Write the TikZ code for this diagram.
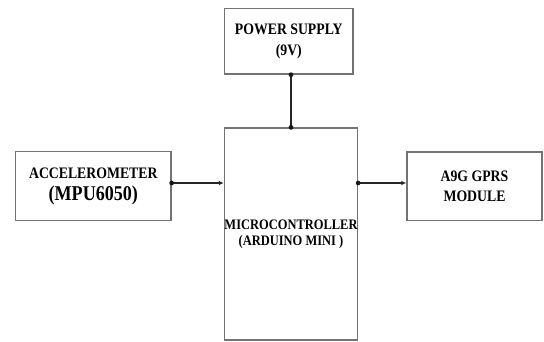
\documentclass[tikz,border=0pt]{standalone}
\usepackage{fontspec}
\setmainfont{Liberation Serif}[FakeStretch=0.86]
\usetikzlibrary{arrows.meta}
\begin{document}
\begin{tikzpicture}[x=1pt,y=-1pt,
  blockbox/.style={draw=black!55, line width=1.3pt, fill=white, inner sep=0pt, align=center, font=\bfseries\fontsize{16}{21}\selectfont},
  conn/.style={line width=1.4pt, black!85, -{Latex[length=5pt,width=4.5pt]}},
  plainconn/.style={line width=1.4pt, black!85},
  jdot/.style={fill=black!90}]
\useasboundingbox (0,0) rectangle (544,341);
\node[blockbox, minimum width=128.5pt, minimum height=65.3pt] (ps) at (288.8,41.4)
  {POWER SUPPLY\\(9V)};
\node[blockbox, minimum width=128pt, minimum height=212pt, font=\bfseries\fontsize{14.5}{16}\selectfont] (mc) at (291,234)
  {MICROCONTROLLER\\(ARDUINO MINI )};
\node[blockbox, minimum width=155.4pt, minimum height=69pt] (acc) at (93.3,186)
  {ACCELEROMETER\\[1pt]{\fontsize{21}{21}\selectfont (MPU6050)}};
\node[blockbox, minimum width=135pt, minimum height=68.7pt, font=\bfseries\fontsize{16}{19.5}\selectfont] (gprs) at (474.5,186.4)
  {A9G GPRS\\MODULE};
\coordinate (mid) at (0,183);
\coordinate (pscol) at (291,0);
\coordinate (a1) at (acc.east |- mid);
\coordinate (a2) at (mc.west |- mid);
\coordinate (b1) at (mc.east |- mid);
\coordinate (b2) at (gprs.west |- mid);
\coordinate (c1) at (ps.south -| pscol);
\coordinate (c2) at (mc.north -| pscol);
\draw[conn] (a1) -- (a2);
\draw[conn] (b1) -- (b2);
\draw[plainconn] (c1) -- (c2);
\foreach \p in {a1,b1,c1,c2} \fill[jdot] (\p) circle (2.4pt);
\end{tikzpicture}
\end{document}
